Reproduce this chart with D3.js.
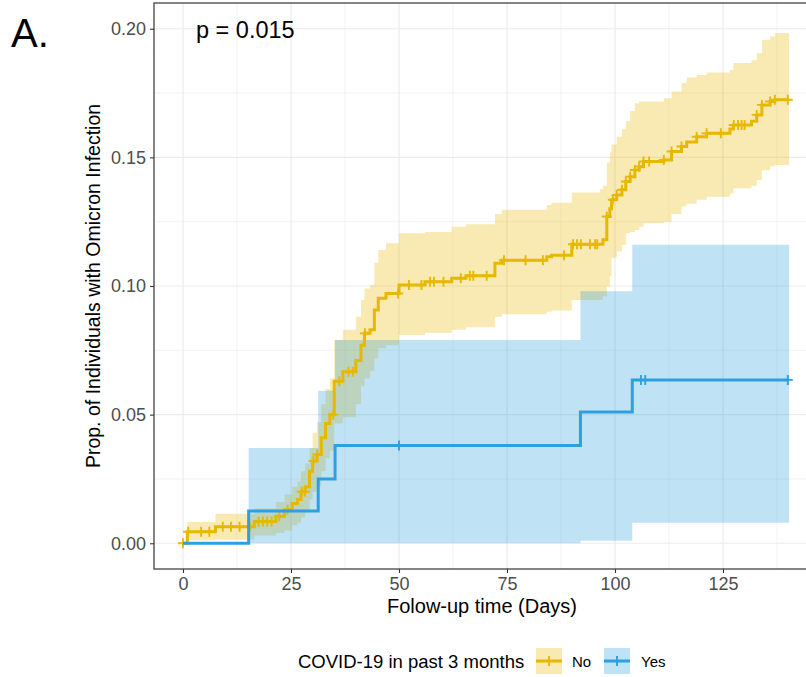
<!DOCTYPE html>
<html>
<head>
<meta charset="utf-8">
<script src="https://cdn.jsdelivr.net/npm/d3@7"></script>
<style>
  body { margin: 0; background: #fff; }
  text { font-family: "Liberation Sans", Arial, sans-serif; }
</style>
</head>
<body>
<div id="chart"></div>
<script>
// Kaplan-Meier style cumulative incidence
// group "No" : event times, estimate, lower CI, upper CI
var noTime = [0, 1.0, 7.5, 16.5, 21.5, 23.5, 25.3, 26.5, 27.3, 28.3, 29.3, 30.0, 31.0, 32.0, 33.0, 34.0, 35.0, 37.0, 40.0, 41.2, 42.0, 43.3, 44.3, 45.2, 47.0, 50.0, 56.0, 62.2, 65.5, 72.2, 73.8, 84.2, 85.3, 90.0, 96.5, 97.2, 98.1, 98.8, 99.2, 100.4, 101.6, 102.5, 103.5, 104.6, 105.6, 106.6, 111.3, 113.1, 115.4, 116.6, 118.9, 121.2, 126.6, 127.4, 131.6, 132.8, 134.0, 135.9, 137.0, 140.3];
var noEst  = [0, 0.0045, 0.0064, 0.0085, 0.0105, 0.013, 0.0155, 0.017, 0.020, 0.022, 0.028, 0.032, 0.0345, 0.041, 0.0466, 0.050, 0.063, 0.0667, 0.071, 0.077, 0.0816, 0.083, 0.0907, 0.0952, 0.0971, 0.1004, 0.1017, 0.103, 0.104, 0.1088, 0.110, 0.1114, 0.112, 0.1162, 0.1162, 0.118, 0.127, 0.130, 0.1335, 0.1354, 0.1374, 0.1406, 0.1425, 0.1451, 0.1464, 0.1484, 0.149, 0.1523, 0.1542, 0.156, 0.158, 0.1594, 0.161, 0.1626, 0.164, 0.1665, 0.1704, 0.1717, 0.1724, 0.1724];
var noLow  = [0, 0.0012, 0.0015, 0.003, 0.004, 0.005, 0.007, 0.008, 0.010, 0.012, 0.017, 0.020, 0.022, 0.028, 0.033, 0.036, 0.0466, 0.049, 0.054, 0.061, 0.064, 0.067, 0.0718, 0.0758, 0.077, 0.081, 0.0818, 0.083, 0.084, 0.088, 0.089, 0.090, 0.0905, 0.0946, 0.0946, 0.096, 0.0998, 0.104, 0.111, 0.1134, 0.116, 0.1205, 0.121, 0.1218, 0.123, 0.1244, 0.125, 0.128, 0.131, 0.132, 0.1335, 0.1347, 0.136, 0.138, 0.139, 0.1412, 0.145, 0.1465, 0.147, 0.147];
var noUp   = [0, 0.0083, 0.0115, 0.0135, 0.016, 0.019, 0.022, 0.024, 0.028, 0.031, 0.037, 0.043, 0.047, 0.054, 0.060, 0.064, 0.079, 0.083, 0.088, 0.0946, 0.099, 0.1004, 0.109, 0.114, 0.1166, 0.1205, 0.121, 0.123, 0.124, 0.128, 0.1296, 0.1315, 0.1324, 0.1363, 0.1376, 0.139, 0.148, 0.152, 0.155, 0.158, 0.161, 0.164, 0.168, 0.171, 0.1717, 0.1717, 0.173, 0.1756, 0.1789, 0.181, 0.182, 0.183, 0.184, 0.1867, 0.1877, 0.1905, 0.1957, 0.197, 0.1983, 0.1983];
var noCensor = [0, 1.2, 4.2, 6.1, 9.2, 11.1, 13.1, 15.5, 17.5, 18.5, 19.5, 20.5, 22.3, 24.2, 27.5, 28.2, 30.2, 31.1, 34.8, 36.2, 38.3, 39.3, 42.1, 49.8, 52.3, 55.2, 57.2, 58.1, 60.3, 64.3, 66.4, 67.2, 70.3, 74.3, 79.3, 83.3, 88.2, 90.3, 91.2, 92.1, 94.2, 95.4, 95.9, 98.1, 99.5, 100.4, 101.6, 102.5, 103.5, 104.6, 105.6, 106.6, 107.9, 111.3, 113.1, 115.4, 118.9, 121.2, 124.5, 127.5, 128.5, 129.3, 130.0, 132.8, 134.0, 135.9, 137.0, 140.0];

// group "Yes"
var yesTime = [0, 15.2, 31.3, 35.2, 92.0, 104.0, 140.3];
var yesEst  = [0, 0.0125, 0.025, 0.038, 0.051, 0.0635, 0.0635];
var yesLow  = [0, 0, 0, 0, 0.001, 0.008, 0.008];
var yesUp   = [0, 0.037, 0.0593, 0.079, 0.098, 0.116, 0.116];
var yesCensor = [50, 106, 107, 140];

var groups = ["No", "Yes"];
var colors = ["#E7B800", "#2E9FDF"];
var xTicks = [0, 25, 50, 75, 100, 125];
var yTicks = [0, 0.05, 0.10, 0.15, 0.20];

var width = 806, height = 677;
var panel = {left: 154, top: 3, right: 818, bottom: 569};

var x = d3.scaleLinear().domain([0, 140]).range([183, 183 + 4.32 * 140]);
var y = d3.scaleLinear().domain([-0.01, 0.21]).range([panel.bottom, panel.top]);

var svg = d3.select("#chart").append("svg")
    .attr("width", width)
    .attr("height", height);

svg.append("defs").append("clipPath").attr("id", "clip")
  .append("rect")
    .attr("x", panel.left).attr("y", panel.top)
    .attr("width", panel.right - panel.left)
    .attr("height", panel.bottom - panel.top);

// grid
var grid = svg.append("g").attr("clip-path", "url(#clip)");
var xMinor = [-12.5, 12.5, 37.5, 62.5, 87.5, 112.5, 137.5];
var yMinor = [0.025, 0.075, 0.125, 0.175];
grid.selectAll(".xminor").data(xMinor).enter().append("line")
    .attr("x1", d => x(d)).attr("x2", d => x(d))
    .attr("y1", panel.top).attr("y2", panel.bottom)
    .attr("stroke", "#EBEBEB").attr("stroke-width", 0.6);
grid.selectAll(".yminor").data(yMinor).enter().append("line")
    .attr("x1", panel.left).attr("x2", panel.right)
    .attr("y1", d => y(d)).attr("y2", d => y(d))
    .attr("stroke", "#EBEBEB").attr("stroke-width", 0.6);
grid.selectAll(".xmajor").data(xTicks).enter().append("line")
    .attr("x1", d => x(d)).attr("x2", d => x(d))
    .attr("y1", panel.top).attr("y2", panel.bottom)
    .attr("stroke", "#EBEBEB").attr("stroke-width", 1.2);
grid.selectAll(".ymajor").data(yTicks).enter().append("line")
    .attr("x1", panel.left).attr("x2", panel.right)
    .attr("y1", d => y(d)).attr("y2", d => y(d))
    .attr("stroke", "#EBEBEB").attr("stroke-width", 1.2);

function rows(t, e, lo, up) {
    return t.map(function(d, i) { return {t: d, est: e[i], low: lo[i], up: up[i]}; });
}
var series = [rows(noTime, noEst, noLow, noUp), rows(yesTime, yesEst, yesLow, yesUp)];
var censors = [noCensor, yesCensor];

function estAt(s, t) {
    var v = 0;
    s.forEach(function(r) { if (r.t <= t) v = r.est; });
    return v;
}

var area = d3.area()
    .curve(d3.curveStepAfter)
    .x(d => x(d.t))
    .y0(d => y(d.low))
    .y1(d => y(d.up));

var line = d3.line()
    .curve(d3.curveStepAfter)
    .x(d => x(d.t))
    .y(d => y(d.est));

var plot = svg.append("g").attr("clip-path", "url(#clip)");

series.forEach(function(s, i) {
    plot.append("path")
        .attr("d", area(s))
        .attr("fill", colors[i])
        .attr("fill-opacity", 0.3);
});

series.forEach(function(s, i) {
    plot.append("path")
        .attr("d", line(s))
        .attr("fill", "none")
        .attr("stroke", colors[i])
        .attr("stroke-width", 3);
    var m = 5;
    plot.selectAll(".c" + i).data(censors[i]).enter().append("path")
        .attr("d", function(t) {
            var cx = x(t), cy = y(estAt(s, t));
            return "M" + (cx - m) + "," + cy + "H" + (cx + m) + "M" + cx + "," + (cy - m) + "V" + (cy + m);
        })
        .attr("stroke", colors[i])
        .attr("stroke-width", 1.9)
        .attr("fill", "none");
});

// panel border
svg.append("rect")
    .attr("x", panel.left).attr("y", panel.top)
    .attr("width", panel.right - panel.left)
    .attr("height", panel.bottom - panel.top)
    .attr("fill", "none").attr("stroke", "#333333").attr("stroke-width", 1.2);

// axes
var xAxis = svg.append("g")
    .attr("transform", "translate(0," + panel.bottom + ")")
    .call(d3.axisBottom(x).tickValues(xTicks).tickSize(4).tickPadding(4).tickFormat(d3.format("d")));
var yAxis = svg.append("g")
    .attr("transform", "translate(" + panel.left + ",0)")
    .call(d3.axisLeft(y).tickValues(yTicks).tickSize(4).tickPadding(4).tickFormat(d3.format(".2f")));
[xAxis, yAxis].forEach(function(a) {
    a.select(".domain").remove();
    a.selectAll(".tick line").attr("stroke", "#333333").attr("stroke-width", 1.1);
    a.selectAll(".tick text")
        .attr("fill", "#4D4D4D")
        .style("font-size", "18px")
        .style("font-family", "'Liberation Sans', Arial, sans-serif");
});

// titles
svg.append("text")
    .attr("x", 482).attr("y", 613)
    .attr("text-anchor", "middle")
    .style("font-size", "20px")
    .text("Folow-up time (Days)");

svg.append("text")
    .attr("transform", "translate(100,286) rotate(-90)")
    .attr("text-anchor", "middle")
    .style("font-size", "19.5px")
    .text("Prop. of Individuals with Omicron Infection");

svg.append("text")
    .attr("x", 11).attr("y", 47)
    .style("font-size", "40px")
    .text("A.");

svg.append("text")
    .attr("x", 196).attr("y", 38)
    .style("font-size", "23.5px")
    .text("p = 0.015");

// legend
var legend = svg.append("g");
legend.append("text")
    .attr("x", 298).attr("y", 668)
    .style("font-size", "18.5px")
    .text("COVID-19 in past 3 months");

var keyX = [536, 604], labX = [572, 641];
groups.forEach(function(g, i) {
    var k = legend.append("g").attr("transform", "translate(" + keyX[i] + ",648)");
    k.append("rect").attr("width", 26).attr("height", 26)
        .attr("fill", colors[i]).attr("fill-opacity", 0.3);
    k.append("line").attr("x1", 0).attr("x2", 26).attr("y1", 13).attr("y2", 13)
        .attr("stroke", colors[i]).attr("stroke-width", 3);
    k.append("line").attr("x1", 13).attr("x2", 13).attr("y1", 8).attr("y2", 18)
        .attr("stroke", colors[i]).attr("stroke-width", 1.9);
    legend.append("text")
        .attr("x", labX[i]).attr("y", 667)
        .style("font-size", "15px")
        .text(g);
});
</script>
</body>
</html>
